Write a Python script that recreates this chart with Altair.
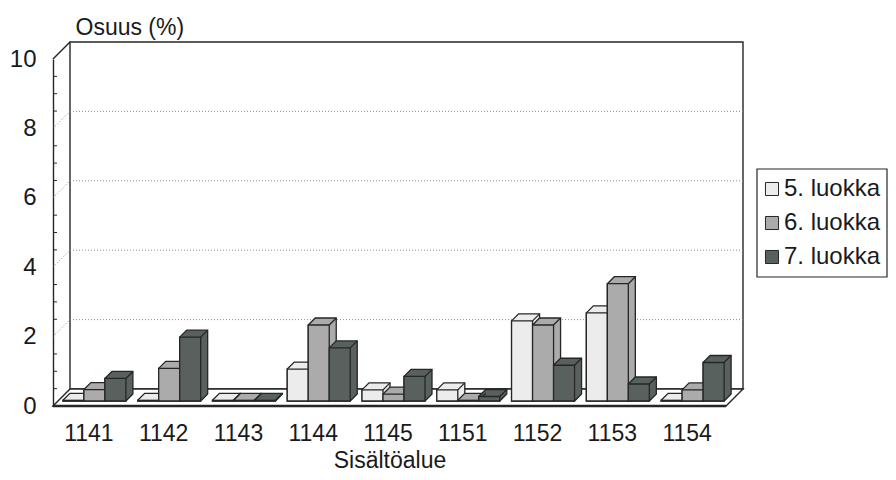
import altair as alt
import pandas as pd

# ---------------- data ----------------
categories = ["1141", "1142", "1143", "1144", "1145", "1151", "1152", "1153", "1154"]
series = ["5. luokka", "6. luokka", "7. luokka"]
grade5 = [0.02, 0.02, 0.02, 0.92, 0.32, 0.32, 2.31, 2.54, 0.02]
grade6 = [0.33, 0.94, 0.02, 2.19, 0.20, 0.02, 2.19, 3.38, 0.32]
grade7 = [0.65, 1.84, 0.02, 1.53, 0.71, 0.13, 1.03, 0.49, 1.11]
y_ticks = [0, 2, 4, 6, 8, 10]
grid_values = [2, 4, 6, 8]
colors = ["#ececec", "#ababab", "#59615e"]

# ---------------- geometry (pixel sizes converted to data units) ----------------
W, H = 673, 347
YMAX = 10
NC = len(categories)
PX = W / NC
PY = H / YMAX


def ux(p):
    return p / PX


def uy(p):
    return p / PY


DX, DY = ux(17), uy(17)      # depth of the 3D floor / walls
BDX, BDY = ux(7), uy(7)      # depth of a bar
OY = uy(5)                   # bars stand a bit behind the front edge
BW = ux(21)                  # bar width
G0 = ux(9.9)                 # start of bar group inside a category band
TICK = ux(4)
INK = "#262626"

values = [grade5, grade6, grade7]

bar_rows, poly_rows, edge_rows = [], [], []
bid = 0
for i, cat in enumerate(categories):
    for j, s in enumerate(series):
        v = values[j][i]
        x0 = i + G0 + j * BW
        x1 = x0 + BW
        yb = OY
        yt = OY + v
        bar_rows.append(dict(id=bid, series=s, x=x0, x2=x1, y=yt, y2=yb))
        pts = [
            (x0, yt, yb),
            (x0 + BDX, yt + BDY, yb),
            (x1, yt + BDY, yb),
            (x1 + BDX, yt + BDY, yb + BDY),
        ]
        for k, (px, py, py2) in enumerate(pts):
            poly_rows.append(dict(id=bid, k=k, series=s, x=px, y=py, y2=py2))
        edge_rows.append(dict(id=bid, x=x1, x2=x1 + BDX, y=yt, y2=yt + BDY))
        bid += 1

bars = pd.DataFrame(bar_rows)
polys = pd.DataFrame(poly_rows)
edges = pd.DataFrame(edge_rows)

wall = pd.DataFrame([dict(x=DX, x2=NC + DX, y=DY, y2=YMAX + DY)])
grid_h = pd.DataFrame([dict(x=DX, x2=NC + DX, y=v + DY) for v in grid_values])
grid_d = pd.DataFrame([dict(x=0.0, x2=DX, y=v, y2=v + DY) for v in grid_values])
top_d = pd.DataFrame([dict(x=0.0, x2=DX, y=YMAX, y2=YMAX + DY)])
floor = pd.DataFrame([
    dict(x=0.0, y=0.0, y2=0.0),
    dict(x=DX, y=DY, y2=0.0),
    dict(x=float(NC), y=DY, y2=0.0),
    dict(x=NC + DX, y=DY, y2=DY),
])
front_line = pd.DataFrame([dict(x=0.0, x2=float(NC), y=0.0)])
tick_vals = [t / 2 for t in range(1, 2 * YMAX) if t % 4 != 0]
ticks = pd.DataFrame([dict(x=0.0, x2=TICK, y=v) for v in tick_vals])
legend_box = pd.DataFrame([dict(a=1)])

# ---------------- scales / axes ----------------
xs = alt.Scale(domain=[0, NC], nice=False, zero=False)
ys = alt.Scale(domain=[0, YMAX], nice=False, zero=False)
cs = alt.Scale(domain=series, range=colors)

label_expr = "[" + ",".join("'%s'" % c for c in categories) + "][floor(datum.value)]"

x_axis = alt.Axis(
    values=[i + 0.5 for i in range(NC)], labelExpr=label_expr,
    ticks=False, domain=False, grid=False,
    labelFontSize=23, labelPadding=16, labelColor="#1a1a1a", labelOffset=-2,
    title="Sisältöalue", titleFontSize=23, titleFontWeight="normal",
    titleColor="#1a1a1a", titleY=61, titleBaseline="alphabetic",
)
y_axis = alt.Axis(
    values=y_ticks, format="d", ticks=False, grid=False,
    domain=True, domainColor=INK, domainWidth=1.4,
    labelFontSize=24, labelPadding=17, labelColor="#1a1a1a",
    title="Osuus (%)", titleAngle=0, titleX=22, titleY=-32,
    titleAlign="left", titleBaseline="middle", titleFontSize=23,
    titleFontWeight="normal", titleColor="#1a1a1a",
)
legend = alt.Legend(
    title=None, orient="none", legendX=707, legendY=118,
    labelFontSize=24, labelColor="#1a1a1a", labelOffset=0,
    symbolType="square", symbolSize=170, symbolStrokeColor=INK,
    symbolStrokeWidth=1, rowPadding=10, padding=0,
)


def X():
    return alt.X("x:Q", scale=xs, axis=x_axis, title="Sisältöalue")


def Y():
    return alt.Y("y:Q", scale=ys, axis=y_axis, stack=None, title="Osuus (%)")


def C():
    return alt.Color("series:N", scale=cs, legend=legend)


back = alt.Chart(wall).mark_rect(fill="white", stroke=INK, strokeWidth=1.4).encode(
    x=X(), x2="x2:Q", y=Y(), y2="y2:Q"
)
gh = alt.Chart(grid_h).mark_rule(color="#8c8c8c", strokeDash=[1, 2], strokeWidth=1).encode(
    x=X(), x2="x2:Q", y=Y()
)
gd = alt.Chart(grid_d).mark_rule(color="#8c8c8c", strokeDash=[1, 2], strokeWidth=1).encode(
    x=X(), x2="x2:Q", y=Y(), y2="y2:Q"
)
td = alt.Chart(top_d).mark_rule(color=INK, strokeWidth=1.4).encode(
    x=X(), x2="x2:Q", y=Y(), y2="y2:Q"
)
fl = alt.Chart(floor).mark_area(fill="white", stroke=INK, strokeWidth=1.4, opacity=1).encode(
    x=X(), y=Y(), y2="y2:Q"
)
fline = alt.Chart(front_line).mark_rule(color=INK, strokeWidth=2.6).encode(
    x=X(), x2="x2:Q", y=Y()
)
tk = alt.Chart(ticks).mark_rule(color=INK, strokeWidth=1).encode(
    x=X(), x2="x2:Q", y=Y()
)
box = alt.Chart(legend_box).mark_rect(fill="white", stroke=INK, strokeWidth=1.2).encode(
    x=alt.value(704), x2=alt.value(834), y=alt.value(110), y2=alt.value(218)
)

body = alt.Chart(polys).mark_area(stroke=INK, strokeWidth=1.3, opacity=1).encode(
    x=X(), y=Y(), y2="y2:Q", color=C(), detail="id:N",
)
edge = alt.Chart(edges).mark_rule(color=INK, strokeWidth=1.3).encode(
    x=X(), x2="x2:Q", y=Y(), y2="y2:Q"
)
front = alt.Chart(bars).mark_rect(stroke=INK, strokeWidth=1.3).encode(
    x=X(), x2="x2:Q", y=Y(), y2="y2:Q", color=C(),
)

chart = alt.layer(back, gh, gd, td, fl, fline, tk, box, body, edge, front).properties(
    width=W, height=H,
    autosize=alt.AutoSizeParams(type="none"),
    padding={"left": 45, "top": 51, "right": 162, "bottom": 66},
    background="white",
).configure(font="Liberation Sans").configure_view(stroke=None)

chart.save("out.html", embed_options={"renderer": "svg", "actions": False})
